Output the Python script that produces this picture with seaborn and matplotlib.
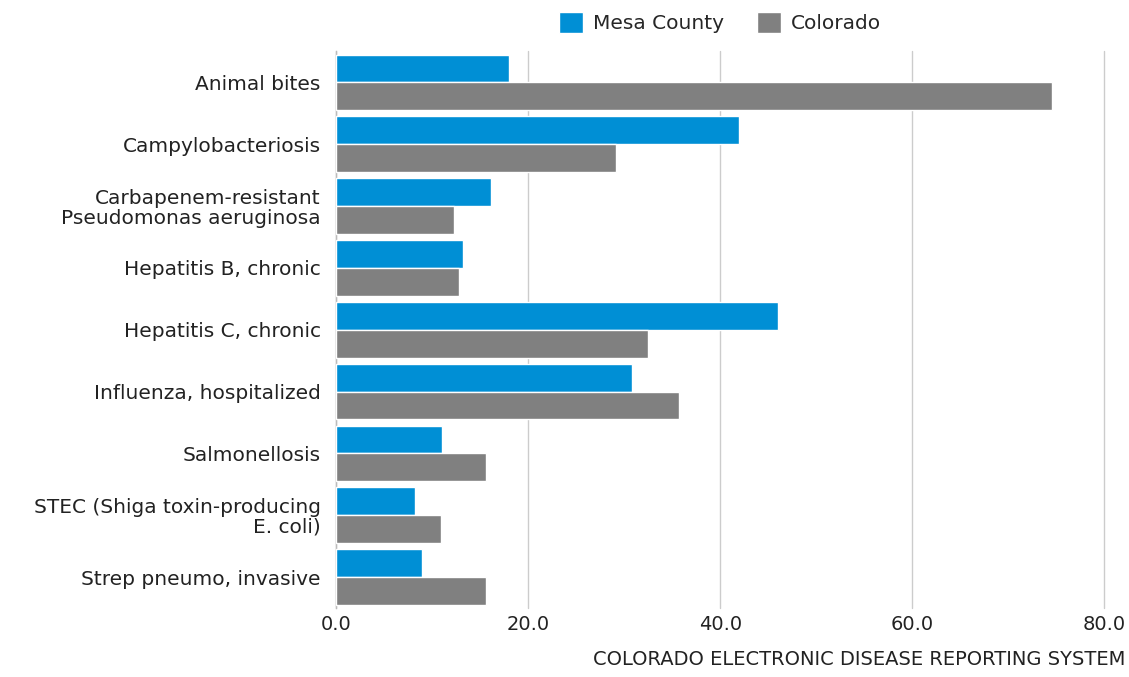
import pandas as pd
import matplotlib.pyplot as plt
import seaborn as sns

# ── data ──────────────────────────────────────────────
diseases = [
    "Animal bites",
    "Campylobacteriosis",
    "Carbapenem-resistant\nPseudomonas aeruginosa",
    "Hepatitis B, chronic",
    "Hepatitis C, chronic",
    "Influenza, hospitalized",
    "Salmonellosis",
    "STEC (Shiga toxin-producing\nE. coli)",
    "Strep pneumo, invasive",
]
mesa_county = [18.0, 42.0, 16.1, 13.2, 46.0, 30.8, 11.0, 8.2, 9.0]
colorado = [74.6, 29.2, 12.3, 12.8, 32.5, 35.7, 15.6, 10.9, 15.6]
x_ticks = [0, 20, 40, 60, 80]

COLORS = {"Mesa County": "#008fd5", "Colorado": "#808080"}

df = pd.DataFrame({
    "disease": diseases * 2,
    "rate": mesa_county + colorado,
    "region": ["Mesa County"] * len(diseases) + ["Colorado"] * len(diseases),
})

sns.set_theme(style="white")
plt.rcParams["font.family"] = ["DejaVu Sans"]

fig = plt.figure(figsize=(11.29, 6.77), dpi=100)
ax = fig.add_axes([0.2976, 0.102, 0.6805, 0.822])

sns.barplot(
    data=df, y="disease", x="rate", hue="region", orient="h",
    palette=COLORS, saturation=1, width=0.9, edgecolor="white", linewidth=1,
    errorbar=None, ax=ax, zorder=3,
)

ax.set_xlim(0, 80)
ax.set_xticks(x_ticks)
ax.set_xticklabels([f"{v:.1f}" for v in x_ticks], fontsize=14, color="#222222")
ax.set_xlabel("")
ax.set_ylabel("")
ax.tick_params(axis="y", length=0, pad=11, labelsize=14.5, labelcolor="#222222")
ax.tick_params(axis="x", length=0, pad=5)
for lbl in ax.get_yticklabels():
    lbl.set_linespacing(1.05)

ax.grid(axis="x", color="#cccccc", linewidth=1, zorder=0)
for gl in ax.get_xgridlines():
    gl.set_clip_on(False)
for side in ["top", "right", "bottom"]:
    ax.spines[side].set_visible(False)
ax.spines["left"].set_color("#bbbbbb")
ax.spines["left"].set_linewidth(1)

sns.move_legend(
    ax, "lower center", bbox_to_anchor=(0.5, 1.0), ncol=2, frameon=False,
    title=None, fontsize=14.5, handlelength=1.2, handleheight=1.2,
    columnspacing=1.6, handletextpad=0.5,
)

fig.text(0.997, 0.012, "COLORADO ELECTRONIC DISEASE REPORTING SYSTEM",
         ha="right", va="bottom", fontsize=14, color="#222222")

plt.savefig("out.png", dpi=100)
plt.close()
